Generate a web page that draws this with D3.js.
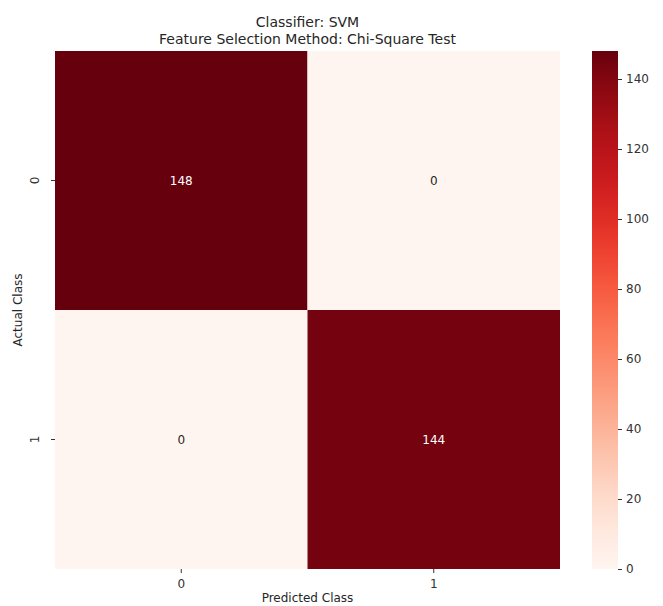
<!DOCTYPE html>
<html>
<head>
<meta charset="utf-8">
<script src="https://cdn.jsdelivr.net/npm/d3@7"></script>
<style>
    body { margin: 0; background: #fff; }
    text { font-family: "DejaVu Sans", sans-serif; fill: #262626; }
</style>
</head>
<body>
<div id="chart"></div>
<script>
// Confusion matrix heatmap - SVM / Chi-Square
const actualClasses = ["0", "1"];
const predictedClasses = ["0", "1"];
const row0Counts = [148, 0];
const row1Counts = [0, 144];
const colorbarTicks = [0, 20, 40, 60, 80, 100, 120, 140];
const titleLines = ["Classifier: SVM", "Feature Selection Method: Chi-Square Test"];

const W = 663, H = 606;
const plot = { left: 55, top: 51, width: 505, height: 518 };
const cbar = { left: 592, width: 26 };

const cells = [];
[row0Counts, row1Counts].forEach((row, i) => {
    row.forEach((v, j) => cells.push({ actual: actualClasses[i], predicted: predictedClasses[j], value: v }));
});

const vmax = d3.max(cells, d => d.value);
const color = d3.scaleSequential(d3.interpolateReds).domain([0, vmax]);

const svg = d3.select("#chart")
    .append("svg")
    .attr("width", W)
    .attr("height", H);

const g = svg.append("g")
    .attr("transform", `translate(${plot.left},${plot.top})`);

const x = d3.scaleBand().domain(predictedClasses).range([0, plot.width]);
const y = d3.scaleBand().domain(actualClasses).range([0, plot.height]);

g.selectAll(".cell")
    .data(cells)
    .enter()
    .append("rect")
    .attr("class", "cell")
    .attr("x", d => x(d.predicted))
    .attr("y", d => y(d.actual))
    .attr("width", x.bandwidth())
    .attr("height", y.bandwidth())
    .attr("fill", d => color(d.value));

g.selectAll(".annot")
    .data(cells)
    .enter()
    .append("text")
    .attr("class", "annot")
    .attr("x", d => x(d.predicted) + x.bandwidth() / 2)
    .attr("y", d => y(d.actual) + y.bandwidth() / 2)
    .attr("text-anchor", "middle")
    .attr("dominant-baseline", "central")
    .style("font-size", "12px")
    .style("fill", d => d.value / vmax > 0.5 ? "#ffffff" : "#262626")
    .text(d => d.value);

// axes
const xAxis = g.append("g")
    .attr("transform", `translate(0,${plot.height})`)
    .call(d3.axisBottom(x).tickSize(4).tickPadding(6));
const yAxis = g.append("g")
    .call(d3.axisLeft(y).tickSize(4).tickPadding(6));

[xAxis, yAxis].forEach(a => {
    a.select(".domain").remove();
    a.selectAll("line").attr("stroke", "#333");
    a.selectAll("text").style("font-size", "12px").style("fill", "#333").attr("font-family", null);
});
yAxis.selectAll(".tick text")
    .attr("x", null).attr("dy", null)
    .attr("text-anchor", "middle")
    .attr("transform", "translate(-16,0) rotate(-90)");

svg.append("text")
    .attr("x", plot.left + plot.width / 2)
    .attr("y", 602)
    .attr("text-anchor", "middle")
    .style("font-size", "12px")
    .text("Predicted Class");

svg.append("text")
    .attr("transform", `translate(22,${plot.top + plot.height / 2}) rotate(-90)`)
    .attr("text-anchor", "middle")
    .style("font-size", "12px")
    .text("Actual Class");

svg.selectAll(".title")
    .data(titleLines)
    .enter()
    .append("text")
    .attr("class", "title")
    .attr("x", plot.left + plot.width / 2)
    .attr("y", (d, i) => 27 + i * 17)
    .attr("text-anchor", "middle")
    .style("font-size", "14px")
    .text(d => d);

// colorbar
const defs = svg.append("defs");
const grad = defs.append("linearGradient")
    .attr("id", "cbar-grad")
    .attr("x1", "0").attr("y1", "1").attr("x2", "0").attr("y2", "0");
d3.range(0, 1.0001, 0.05).forEach(t => {
    grad.append("stop")
        .attr("offset", t)
        .attr("stop-color", color(t * vmax));
});

const cy = d3.scaleLinear().domain([0, vmax]).range([plot.top + plot.height, plot.top]);

svg.append("rect")
    .attr("x", cbar.left)
    .attr("y", plot.top)
    .attr("width", cbar.width)
    .attr("height", plot.height)
    .attr("fill", "url(#cbar-grad)");

const cAxis = svg.append("g")
    .attr("transform", `translate(${cbar.left + cbar.width},0)`)
    .call(d3.axisRight(cy).tickValues(colorbarTicks).tickSize(4).tickPadding(4));
cAxis.select(".domain").remove();
cAxis.selectAll("line").attr("stroke", "#333");
cAxis.selectAll("text").style("font-size", "12px").style("fill", "#333").attr("font-family", null);
</script>
</body>
</html>
